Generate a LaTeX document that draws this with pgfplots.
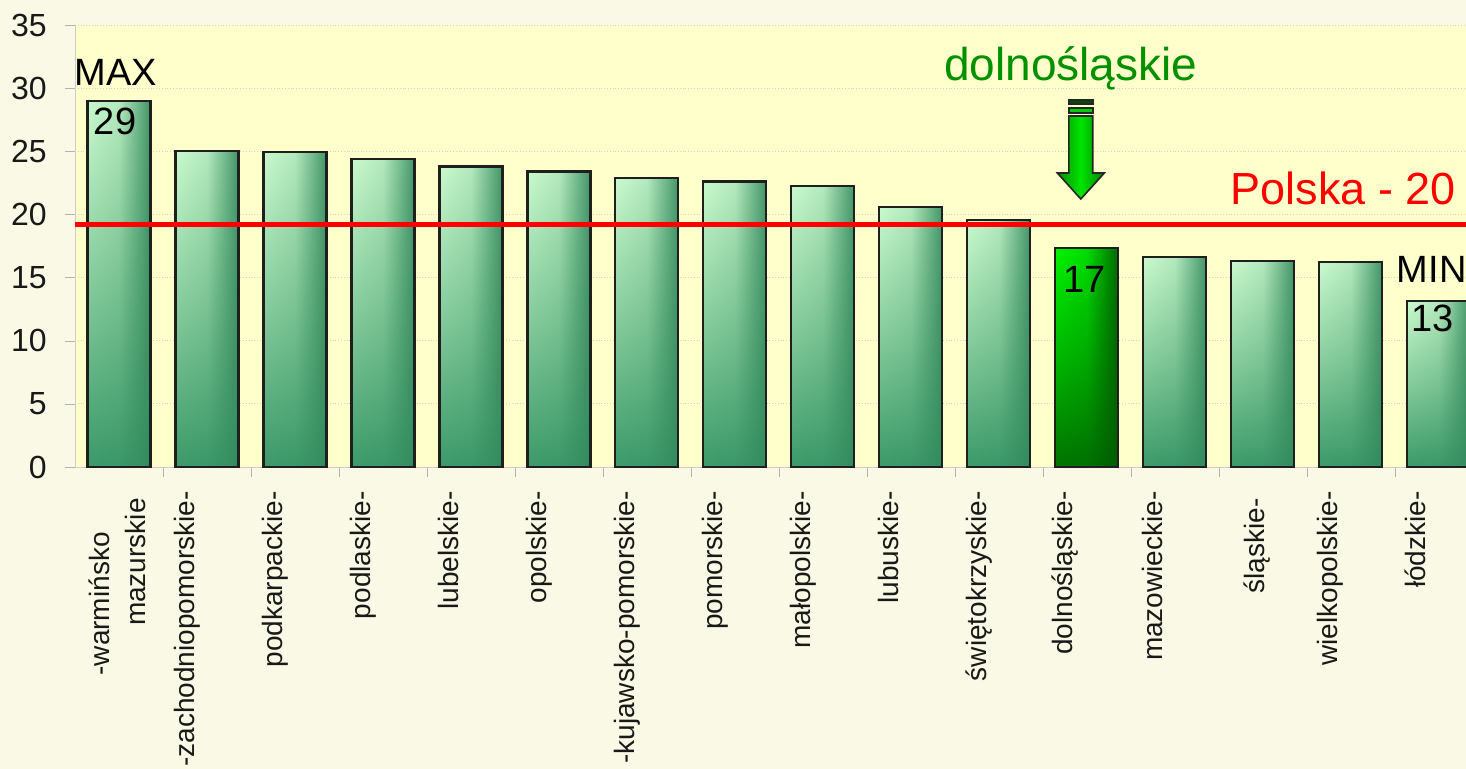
\documentclass[border=0pt]{standalone}
\usepackage{fontspec}
\setmainfont{Liberation Sans}
\usepackage{pgfplots}
\pgfplotsset{compat=1.18}
\usetikzlibrary{fadings}
\pgfdeclarelayer{background}
\pgfsetlayers{background,main}

\definecolor{outerbg}{HTML}{F9F9E6}
\definecolor{plotbg}{HTML}{FFFFCC}
\definecolor{bartop}{HTML}{CAFACE}
\definecolor{barmid}{HTML}{86CC9C}
\definecolor{barbot}{HTML}{3C9A6A}
\definecolor{bardark}{HTML}{338A5C}
\definecolor{hitop}{HTML}{00F400}
\definecolor{himid}{HTML}{00B800}
\definecolor{hibot}{HTML}{007400}
\definecolor{hidark}{HTML}{005A00}
\definecolor{labgreen}{HTML}{009000}

\tikzfading[name=barfade, left color=transparent!100, right color=transparent!10, middle color=transparent!85]

\tikzset{
  xlab/.style={rotate=90, anchor=base east, inner sep=0pt, font=\fontsize{14}{16}\selectfont, text=black!90},
  big/.style={inner sep=0pt, font=\fontsize{19}{22}\selectfont},
}
\pgfplotsset{onebar/.style={ybar, bar width=0.716, bar shift=0pt, mark=none}}

% one bar: x, value, top/mid/bottom colour, colour of the darker right side
\newcommand\regionbar[6]{%
  \addplot[onebar, draw=none, top color=#3, bottom color=#5, middle color=#4] coordinates {(#1,#2)};
  \addplot[onebar, draw=none, fill=#6, path fading=barfade] coordinates {(#1,#2)};
  \addplot[onebar, draw=black!88, line width=1.1pt, fill=none] coordinates {(#1,#2)};
}

\begin{document}
\begin{tikzpicture}
\begin{axis}[
  name=ax,
  scale only axis,
  width=695.5pt, height=221pt,
  xmin=-0.5, xmax=15.31,
  ymin=0, ymax=35,
  clip=false,
  axis background/.style={fill=plotbg},
  axis x line*=bottom, axis y line*=left,
  axis line style={-, draw=black!20},
  xtick={0.5,1.5,...,14.5}, xticklabels={},
  ytick={0,5,...,35},
  tick align=outside,
  major tick length=5pt,
  tick style={draw=black!30},
  ymajorgrids,
  grid style={densely dotted, draw=black!18},
  /pgf/number format/assume math mode=true,
  yticklabel style={font=\fontsize{16}{18}\selectfont, text=black!90, inner sep=0pt, xshift=-9pt},
]
\regionbar{0}{29.0}{bartop}{barmid}{barbot}{bardark}
\regionbar{1}{25.05}{bartop}{barmid}{barbot}{bardark}
\regionbar{2}{24.95}{bartop}{barmid}{barbot}{bardark}
\regionbar{3}{24.4}{bartop}{barmid}{barbot}{bardark}
\regionbar{4}{23.8}{bartop}{barmid}{barbot}{bardark}
\regionbar{5}{23.4}{bartop}{barmid}{barbot}{bardark}
\regionbar{6}{22.9}{bartop}{barmid}{barbot}{bardark}
\regionbar{7}{22.6}{bartop}{barmid}{barbot}{bardark}
\regionbar{8}{22.25}{bartop}{barmid}{barbot}{bardark}
\regionbar{9}{20.6}{bartop}{barmid}{barbot}{bardark}
\regionbar{10}{19.55}{bartop}{barmid}{barbot}{bardark}
\regionbar{11}{17.35}{hitop}{himid}{hibot}{hidark}
\regionbar{12}{16.6}{bartop}{barmid}{barbot}{bardark}
\regionbar{13}{16.3}{bartop}{barmid}{barbot}{bardark}
\regionbar{14}{16.25}{bartop}{barmid}{barbot}{bardark}
\regionbar{15}{13.15}{bartop}{barmid}{barbot}{bardark}

% national average
\addplot[red, line width=2.5pt, mark=none] coordinates {(-0.5,19.2) (15.31,19.2)};

% arrow
\filldraw[draw=black!85, line width=0.8pt, fill=black!70!green] (axis cs:10.796,28.74) rectangle (axis cs:11.068,29.06);
\filldraw[draw=black!85, line width=0.8pt, fill=green!80!black] (axis cs:10.796,28.03) rectangle (axis cs:11.068,28.42);
\draw[draw=black!85, line width=0.8pt, left color=green!55!black, right color=green!50!black, middle color=green!90!black]
  (axis cs:10.796,27.79) -- (axis cs:11.068,27.79) -- (axis cs:11.068,23.28) -- (axis cs:11.199,23.28)
  -- (axis cs:10.932,21.22) -- (axis cs:10.665,23.28) -- (axis cs:10.796,23.28) -- cycle;

% annotations
\node[big, anchor=base west] at (axis cs:-0.511,30.17) {MAX};
\node[big, anchor=base] at (axis cs:-0.045,26.29) {29};
\node[big, anchor=base] at (axis cs:10.977,13.78) {17};
\node[big, anchor=base west] at (axis cs:14.52,14.57) {MIN};
\node[big, anchor=base] at (axis cs:14.93,10.69) {13};
\node[inner sep=0pt, anchor=base, font=\fontsize{23}{26}\selectfont, text=labgreen] at (axis cs:10.818,30.64) {dolnośląskie};
\node[inner sep=0pt, anchor=base east, font=\fontsize{22.5}{26}\selectfont, text=red] at (axis cs:15.2,20.75) {Polska - 20};

% category labels
\node[xlab] at ([xshift=-4.75pt,yshift=-32.5pt]axis cs:0,0) {-warmińsko};
\node[xlab] at ([xshift=13.25pt,yshift=-15.5pt]axis cs:0,0) {mazurskie};
\node[xlab] at ([xshift=-6pt,yshift=-12pt]axis cs:1,0) {-zachodniopomorskie-};
\node[xlab] at ([xshift=-6pt,yshift=-12pt]axis cs:2,0) {podkarpackie-};
\node[xlab] at ([xshift=-6pt,yshift=-12pt]axis cs:3,0) {podlaskie-};
\node[xlab] at ([xshift=-6pt,yshift=-12pt]axis cs:4,0) {lubelskie-};
\node[xlab] at ([xshift=-6pt,yshift=-12pt]axis cs:5,0) {opolskie-};
\node[xlab] at ([xshift=-6pt,yshift=-12pt]axis cs:6,0) {-kujawsko-pomorskie-};
\node[xlab] at ([xshift=-6pt,yshift=-12pt]axis cs:7,0) {pomorskie-};
\node[xlab] at ([xshift=-6pt,yshift=-12pt]axis cs:8,0) {małopolskie-};
\node[xlab] at ([xshift=-6pt,yshift=-12pt]axis cs:9,0) {lubuskie-};
\node[xlab] at ([xshift=-6pt,yshift=-12pt]axis cs:10,0) {świętokrzyskie-};
\node[xlab] at ([xshift=-7pt,yshift=-12pt]axis cs:11,0) {dolnośląskie-};
\node[xlab] at ([xshift=-6pt,yshift=-12pt]axis cs:12,0) {mazowieckie-};
\node[xlab] at ([xshift=1pt,yshift=-15.5pt]axis cs:13,0) {śląskie-};
\node[xlab] at ([xshift=-6.5pt,yshift=-12pt]axis cs:14,0) {wielkopolskie-};
\node[xlab] at ([xshift=-6.5pt,yshift=-12pt]axis cs:15,0) {łódzkie-};
\end{axis}
\begin{pgfonlayer}{background}
\fill[outerbg] ([xshift=-37.5pt,yshift=-151pt]ax.south west) rectangle ([yshift=12.5pt]ax.north east);
\end{pgfonlayer}
\pgfresetboundingbox
\path ([xshift=-37.5pt,yshift=-151pt]ax.south west) rectangle ([yshift=12.5pt]ax.north east);
\end{tikzpicture}
\end{document}
